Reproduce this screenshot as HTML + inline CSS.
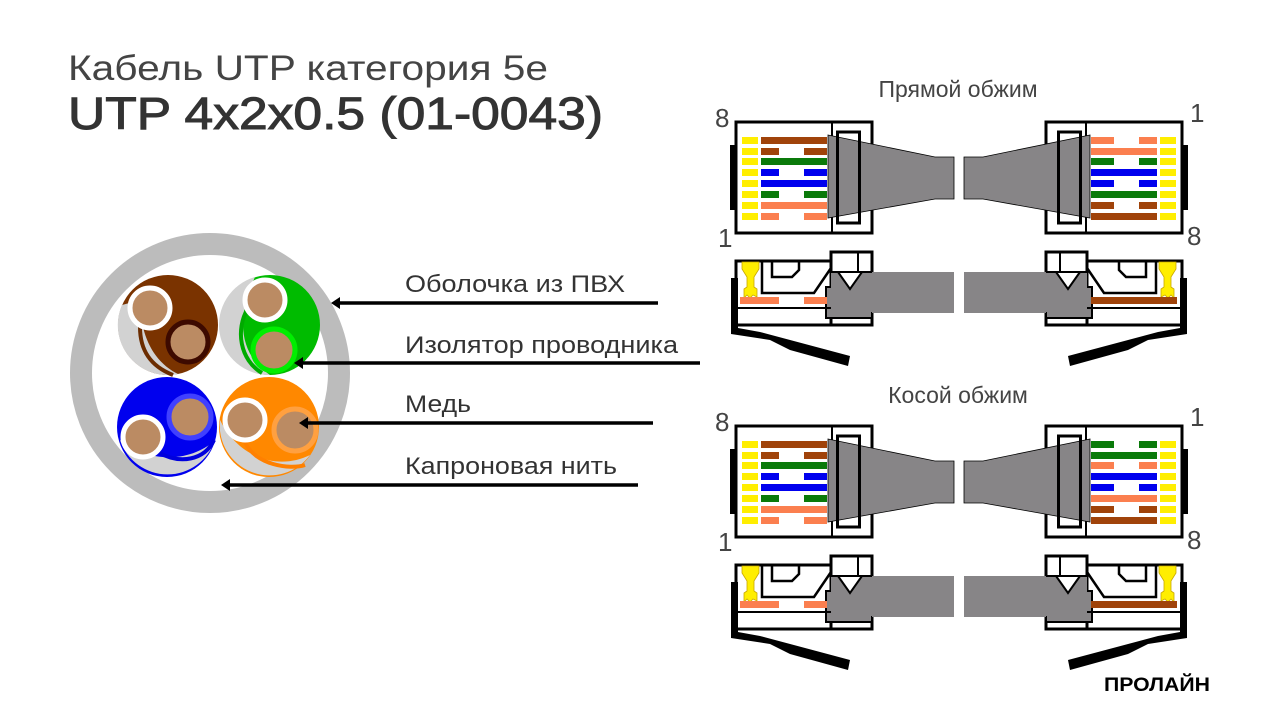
<!DOCTYPE html>
<html><head><meta charset="utf-8"><style>
html,body{margin:0;padding:0;background:#fff;}
svg{display:block;}
text{font-family:"Liberation Sans","DejaVu Sans",sans-serif;}
</style></head><body>
<svg width="1280" height="720" viewBox="0 0 1280 720" xmlns="http://www.w3.org/2000/svg">
<defs>
<g id="half">
  <rect x="20" y="45" width="6" height="65" fill="#000"/>
  <rect x="26" y="22" width="136" height="111" fill="#fff" stroke="#000" stroke-width="3"/>
  <line x1="122" y1="22" x2="122" y2="133" stroke="#000" stroke-width="2"/>
  <polygon points="118,35 225,57 244,57 244,99 225,99 118,118" fill="#878587" stroke="#000" stroke-width="0.8"/>
  <rect x="127.5" y="32" width="22" height="91" fill="none" stroke="#000" stroke-width="3"/>
  <rect x="26" y="161" width="136" height="64" fill="#fff" stroke="#000" stroke-width="3"/>
  <rect x="121" y="152" width="41" height="73" fill="#fff" stroke="#000" stroke-width="3"/>
  <rect x="116" y="187" width="46" height="31" fill="#878587" stroke="#000" stroke-width="2"/>
  <rect x="162" y="172" width="82" height="41" fill="#878587"/>
  <rect x="121" y="172" width="41" height="40" fill="#878587"/>
  <polyline points="128,172 140,189 152,172" fill="#fff" stroke="#000" stroke-width="2"/>
  <line x1="148" y1="152" x2="148" y2="172" stroke="#000" stroke-width="2"/>
  <line x1="121" y1="172" x2="162" y2="172" stroke="#000" stroke-width="2"/>
  <polyline points="52,162 52,193 104,193 121,168" fill="none" stroke="#000" stroke-width="2.5"/>
  <polyline points="62,162 62,177 82,177 89,170 89,162" fill="none" stroke="#000" stroke-width="2.5"/>
  <line x1="26" y1="208" x2="121" y2="208" stroke="#000" stroke-width="2"/>
  <line x1="121" y1="218" x2="162" y2="218" stroke="#000" stroke-width="2"/>
  <path d="M32,162 h17 v7 l-5,8 v10 l3,2 v8 l-4,-2 -3,3 -3,-3 -3,3 v-9 l3,-2 v-10 l-5,-8 z" fill="#ffee00" stroke="#c9a800" stroke-width="0.8"/>
  <polygon points="21,178 28,178 28,228 50,232 140,256 138,266 80,250 60,240 21,234" fill="#000"/>
</g>
<g id="wl"><rect x="32" y="0" width="16" height="7" fill="#ffee00"/></g>
<g id="wr"><rect x="450" y="0" width="16" height="7" fill="#ffee00"/></g>
</defs>

<text x="68" y="80" font-size="35" fill="#444" textLength="480" lengthAdjust="spacingAndGlyphs">Кабель UTP категория 5e</text>
<text x="68" y="129" font-size="45" fill="#333" stroke="#333" stroke-width="1" textLength="535" lengthAdjust="spacingAndGlyphs">UTP 4x2x0.5 (01-0043)</text>

<circle cx="210" cy="373" r="129" fill="#fff" stroke="#bcbcbc" stroke-width="22"/>
<circle cx="168" cy="325" r="50" fill="#7a3300"/>
<path d="M122,305 A50,50 0 0 0 178,374 C150,360 140,330 140,300 Z" fill="#d2d2d2"/>
<path d="M140,327 C140,350 150,366 173,375" fill="none" stroke="#6b2c00" stroke-width="4"/>
<circle cx="150" cy="308" r="20" fill="#bb8b63" stroke="#fff" stroke-width="5"/>
<circle cx="188" cy="342" r="20" fill="#bb8b63" stroke="#3d0a00" stroke-width="5"/>
<circle cx="270" cy="325" r="50" fill="#00bb00"/>
<path d="M255,277 A50,50 0 0 0 270,375 C240,355 235,320 255,277 Z" fill="#d2d2d2"/>
<path d="M248,308 C235,330 240,360 262,373" fill="none" stroke="#00aa00" stroke-width="4"/>
<circle cx="265" cy="300" r="20" fill="#bb8b63" stroke="#fff" stroke-width="5"/>
<circle cx="274" cy="350" r="21" fill="#bb8b63" stroke="#00ee00" stroke-width="5"/>
<circle cx="167" cy="427" r="50" fill="#0000ee"/>
<path d="M120,440 A50,50 0 0 0 215,440 C200,455 160,470 120,440 Z" fill="#d2d2d2"/>
<path d="M158,452 C180,465 205,460 214,440" fill="none" stroke="#0000dd" stroke-width="4"/>
<circle cx="190" cy="417" r="21" fill="#bb8b63" stroke="#4040ff" stroke-width="5"/>
<circle cx="143" cy="437" r="20" fill="#bb8b63" stroke="#fff" stroke-width="5"/>
<circle cx="269" cy="427" r="50" fill="#ff8800"/>
<path d="M220,420 A50,50 0 0 0 310,455 C280,470 240,460 220,420 Z" fill="#d2d2d2"/>
<path d="M245,442 C255,465 290,470 305,465" fill="none" stroke="#ff8000" stroke-width="4"/>
<circle cx="245" cy="420" r="20" fill="#bb8b63" stroke="#fff" stroke-width="5"/>
<circle cx="295" cy="430" r="21" fill="#bb8b63" stroke="#ffa040" stroke-width="5"/>

<g fill="#333" font-size="24">
<text x="405" y="292" textLength="220" lengthAdjust="spacingAndGlyphs">Оболочка из ПВХ</text>
<text x="405" y="353" textLength="273" lengthAdjust="spacingAndGlyphs">Изолятор проводника</text>
<text x="405" y="412" textLength="66" lengthAdjust="spacingAndGlyphs">Медь</text>
<text x="405" y="474" textLength="212" lengthAdjust="spacingAndGlyphs">Капроновая нить</text>
</g>
<g stroke="#000" stroke-width="3.5">
<line x1="338" y1="303" x2="658" y2="303"/>
<line x1="301" y1="363" x2="700" y2="363"/>
<line x1="306" y1="423" x2="653" y2="423"/>
<line x1="228" y1="485" x2="638" y2="485"/>
</g>
<g fill="#000">
<polygon points="331,303 340,297 340,309"/>
<polygon points="294,363 303,357 303,369"/>
<polygon points="299,423 308,417 308,429"/>
<polygon points="221,485 230,479 230,491"/>
</g>

<g font-size="23" fill="#444">
<text x="958" y="97" text-anchor="middle">Прямой обжим</text>
<text x="958" y="403" text-anchor="middle">Косой обжим</text>
</g>

<g transform="translate(710,100)">
  <use href="#half"/>
  <use href="#half" transform="matrix(-1 0 0 1 498 0)"/>
  <rect x="30" y="197" width="87" height="7" fill="#fb7f4f"/><rect x="69" y="197" width="25" height="7" fill="#fff"/>
  <rect x="381" y="197" width="86" height="7" fill="#a0430a"/>
  <g font-size="26" fill="#444">
    <text x="5" y="27">8</text><text x="480" y="22">1</text>
    <text x="8" y="147">1</text><text x="477" y="145">8</text>
  </g>
  <g>
    <use href="#wl" y="37"/><rect x="51" y="37" width="66" height="7" fill="#a0430a"/>
    <use href="#wl" y="48"/><rect x="51" y="48" width="66" height="7" fill="#a0430a"/><rect x="69" y="48" width="25" height="7" fill="#fff"/>
    <use href="#wl" y="58"/><rect x="51" y="58" width="66" height="7" fill="#0a7a0a"/>
    <use href="#wl" y="69"/><rect x="51" y="69" width="66" height="7" fill="#0000ee"/><rect x="69" y="69" width="25" height="7" fill="#fff"/>
    <use href="#wl" y="80"/><rect x="51" y="80" width="66" height="7" fill="#0000ee"/>
    <use href="#wl" y="91"/><rect x="51" y="91" width="66" height="7" fill="#0a7a0a"/><rect x="69" y="91" width="25" height="7" fill="#fff"/>
    <use href="#wl" y="102"/><rect x="51" y="102" width="66" height="7" fill="#fb7f4f"/>
    <use href="#wl" y="113"/><rect x="51" y="113" width="66" height="7" fill="#fb7f4f"/><rect x="69" y="113" width="25" height="7" fill="#fff"/>
  </g>
  <g>
    <use href="#wr" y="37"/><rect x="381" y="37" width="66" height="7" fill="#fb7f4f"/><rect x="404" y="37" width="25" height="7" fill="#fff"/>
    <use href="#wr" y="48"/><rect x="381" y="48" width="66" height="7" fill="#fb7f4f"/>
    <use href="#wr" y="58"/><rect x="381" y="58" width="66" height="7" fill="#0a7a0a"/><rect x="404" y="58" width="25" height="7" fill="#fff"/>
    <use href="#wr" y="69"/><rect x="381" y="69" width="66" height="7" fill="#0000ee"/>
    <use href="#wr" y="80"/><rect x="381" y="80" width="66" height="7" fill="#0000ee"/><rect x="404" y="80" width="25" height="7" fill="#fff"/>
    <use href="#wr" y="91"/><rect x="381" y="91" width="66" height="7" fill="#0a7a0a"/>
    <use href="#wr" y="102"/><rect x="381" y="102" width="66" height="7" fill="#a0430a"/><rect x="404" y="102" width="25" height="7" fill="#fff"/>
    <use href="#wr" y="113"/><rect x="381" y="113" width="66" height="7" fill="#a0430a"/>
  </g>
</g>

<g transform="translate(710,404)">
  <use href="#half"/>
  <use href="#half" transform="matrix(-1 0 0 1 498 0)"/>
  <rect x="30" y="197" width="87" height="7" fill="#fb7f4f"/><rect x="69" y="197" width="25" height="7" fill="#fff"/>
  <rect x="381" y="197" width="86" height="7" fill="#a0430a"/>
  <g font-size="26" fill="#444">
    <text x="5" y="27">8</text><text x="480" y="22">1</text>
    <text x="8" y="147">1</text><text x="477" y="145">8</text>
  </g>
  <g>
    <use href="#wl" y="37"/><rect x="51" y="37" width="66" height="7" fill="#a0430a"/>
    <use href="#wl" y="48"/><rect x="51" y="48" width="66" height="7" fill="#a0430a"/><rect x="69" y="48" width="25" height="7" fill="#fff"/>
    <use href="#wl" y="58"/><rect x="51" y="58" width="66" height="7" fill="#0a7a0a"/>
    <use href="#wl" y="69"/><rect x="51" y="69" width="66" height="7" fill="#0000ee"/><rect x="69" y="69" width="25" height="7" fill="#fff"/>
    <use href="#wl" y="80"/><rect x="51" y="80" width="66" height="7" fill="#0000ee"/>
    <use href="#wl" y="91"/><rect x="51" y="91" width="66" height="7" fill="#0a7a0a"/><rect x="69" y="91" width="25" height="7" fill="#fff"/>
    <use href="#wl" y="102"/><rect x="51" y="102" width="66" height="7" fill="#fb7f4f"/>
    <use href="#wl" y="113"/><rect x="51" y="113" width="66" height="7" fill="#fb7f4f"/><rect x="69" y="113" width="25" height="7" fill="#fff"/>
  </g>
  <g>
    <use href="#wr" y="37"/><rect x="381" y="37" width="66" height="7" fill="#0a7a0a"/><rect x="404" y="37" width="25" height="7" fill="#fff"/>
    <use href="#wr" y="48"/><rect x="381" y="48" width="66" height="7" fill="#0a7a0a"/>
    <use href="#wr" y="58"/><rect x="381" y="58" width="66" height="7" fill="#fb7f4f"/><rect x="404" y="58" width="25" height="7" fill="#fff"/>
    <use href="#wr" y="69"/><rect x="381" y="69" width="66" height="7" fill="#0000ee"/>
    <use href="#wr" y="80"/><rect x="381" y="80" width="66" height="7" fill="#0000ee"/><rect x="404" y="80" width="25" height="7" fill="#fff"/>
    <use href="#wr" y="91"/><rect x="381" y="91" width="66" height="7" fill="#fb7f4f"/>
    <use href="#wr" y="102"/><rect x="381" y="102" width="66" height="7" fill="#a0430a"/><rect x="404" y="102" width="25" height="7" fill="#fff"/>
    <use href="#wr" y="113"/><rect x="381" y="113" width="66" height="7" fill="#a0430a"/>
  </g>
</g>

<text x="1104" y="691" font-size="19" font-weight="bold" fill="#000" textLength="106" lengthAdjust="spacingAndGlyphs">ПРОЛАЙН</text>
</svg>
</body></html>
